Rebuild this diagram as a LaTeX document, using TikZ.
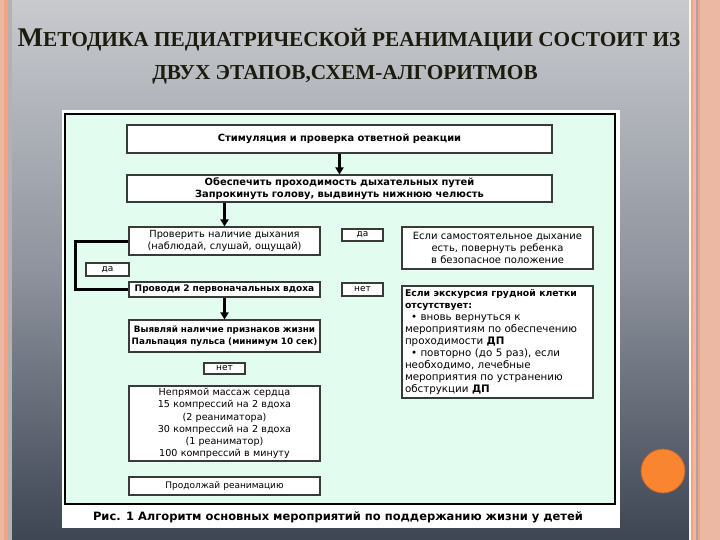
\documentclass[tikz,border=0pt]{standalone}
\usepackage{fontspec}
\setmainfont{DejaVu Sans}
\newfontfamily\titlefont{Liberation Serif}
\usetikzlibrary{arrows.meta}
\definecolor{bgtop}{HTML}{C8CACE}
\definecolor{bgmid}{HTML}{8E939D}
\definecolor{bgbot}{HTML}{3E4553}
\definecolor{salmon}{HTML}{ECB8A4}
\definecolor{stripe}{HTML}{F2A285}
\definecolor{mint}{HTML}{E2FCF0}
\definecolor{boxc}{HTML}{3A3A3A}
\definecolor{titlec}{HTML}{1C1C0E}
\definecolor{dot}{HTML}{FA8530}
\definecolor{dotedge}{HTML}{C0642A}
\tikzset{
  box/.style={draw=boxc, line width=1.1pt, fill=white, inner xsep=3pt, inner ysep=0pt,
    align=center, font=\fontsize{9.6}{12.3}\selectfont},
  boldbox/.style={box, font=\bfseries\fontsize{9.9}{12}\selectfont},
  tagbox/.style={draw=boxc, line width=1.1pt, fill=white, inner sep=0pt,
    minimum width=41pt, font=\fontsize{9}{10}\selectfont},
  arr/.style={line width=2.2pt, -{Triangle[width=8pt,length=7pt]}},
  bracket/.style={line width=3pt}
}
\begin{document}
\begin{tikzpicture}[x=1pt,y=-1pt]
\useasboundingbox (0,0) rectangle (720,540);
% slide background
\fill[salmon] (0,0) rectangle (720,540);
\shade[top color=bgtop, bottom color=bgbot, middle color=bgmid] (12,0) rectangle (689,540);
\fill[stripe] (4,0) rectangle (8,540);
\fill[gray!60] (8,0) rectangle (12,540);
\fill[white!85!salmon] (689,0) rectangle (691,540);
\fill[stripe] (691,0) rectangle (693,540);
\fill[gray!70] (696,0) rectangle (697.5,540);
\fill[stripe] (697.5,0) rectangle (700,540);
% title
\node[font=\titlefont\bfseries, text=titlec] (t1) at (349,40)
  {{\fontsize{27}{27}\selectfont М}{\fontsize{21.3}{21}\selectfont ЕТОДИКА ПЕДИАТРИЧЕСКОЙ РЕАНИМАЦИИ СОСТОИТ ИЗ}};
\node[font=\titlefont\bfseries, text=titlec] (t2) at (345,75)
  {\fontsize{21.3}{21}\selectfont ДВУХ ЭТАПОВ,СХЕМ-АЛГОРИТМОВ};
% panel
\fill[white] (62,110) rectangle (620,528);
\draw[line width=2.2pt, fill=mint] (65,114) rectangle (615,504);
\node[font=\bfseries\fontsize{11.5}{12}\selectfont] (cap) at (338,517)
  {Рис. 1 Алгоритм основных мероприятий по поддержанию жизни у детей};
% boxes
\node[boldbox, minimum width=425pt, text width=419pt, minimum height=28pt] (b1) at (339.5,139)
  {Стимуляция и проверка ответной реакции};
\node[boldbox, minimum width=425pt, text width=419pt, minimum height=27pt] (b2) at (339.5,188.5)
  {Обеспечить проходимость дыхательных путей\\Запрокинуть голову, выдвинуть нижнюю челюсть};
\node[box, font=\fontsize{9.8}{12}\selectfont, minimum width=191pt, text width=185pt, minimum height=28pt] (b3) at (224.5,241)
  {Проверить наличие дыхания\\(наблюдай, слушай, ощущай)};
\node[tagbox, minimum height=12pt] (d1) at (362.5,235) {да};
\node[box, font=\fontsize{10}{12.3}\selectfont, minimum width=191pt, text width=185pt, minimum height=42pt] (b5) at (497.5,248)
  {Если самостоятельное дыхание\\есть, повернуть ребенка\\в безопасное положение};
\node[tagbox, minimum width=43pt, minimum height=13pt] (d2) at (107.5,269.5) {да};
\node[box, font=\bfseries\fontsize{9}{11.8}\selectfont, minimum width=191pt, text width=185pt, minimum height=15pt] (b7) at (224.5,289.5)
  {Проводи 2 первоначальных вдоха};
\node[tagbox, minimum height=13pt] (n1) at (362.5,289.5) {нет};
\node[box, align=left, font=\fontsize{10.3}{12}\selectfont, minimum width=191pt, text width=185pt, minimum height=112pt] (b9) at (497.5,342)
  {{\fontsize{9.3}{12}\selectfont\bfseries Если экскурсия грудной клетки}\\{\fontsize{9.3}{12}\selectfont\bfseries отсутствует:}\\
   \hspace*{6pt}• вновь вернуться к\\мероприятиям по обеспечению\\проходимости \textbf{ДП}\\
   \hspace*{6pt}• повторно (до 5 раз), если\\необходимо, лечебные\\мероприятия по устранению\\обструкции \textbf{ДП}};
\node[box, font=\bfseries\fontsize{8.8}{11.8}\selectfont, minimum width=191pt, text width=187pt, inner xsep=2pt, minimum height=32pt] (b10) at (224.5,336)
  {Выявляй наличие признаков жизни\\Пальпация пульса (минимум 10 сек)};
\node[tagbox, minimum height=11pt] (n2) at (224.5,368.5) {нет};
\node[box, minimum width=191pt, text width=185pt, minimum height=75pt] (b12) at (224.5,423.5)
  {Непрямой массаж сердца\\15 компрессий на 2 вдоха\\(2 реаниматора)\\30 компрессий на 2 вдоха\\(1 реаниматор)\\100 компрессий в минуту};
\node[box, font=\fontsize{9}{11}\selectfont, minimum width=191pt, text width=185pt, minimum height=18pt] (b13) at (224.5,486)
  {Продолжай реанимацию};
% connectors
\draw[arr] (b1.south) -- (b2.north);
\draw[arr] (b2.south -| b3.north) -- (b3.north);
\draw[arr] (b7.south) -- (b10.north);
\draw[bracket] (b3.west) -- ++(-53,0) |- (b7.west);
% decoration
\draw[fill=dot, draw=dotedge, line width=0.8pt] (663,471) circle (22);
\end{tikzpicture}
\end{document}
